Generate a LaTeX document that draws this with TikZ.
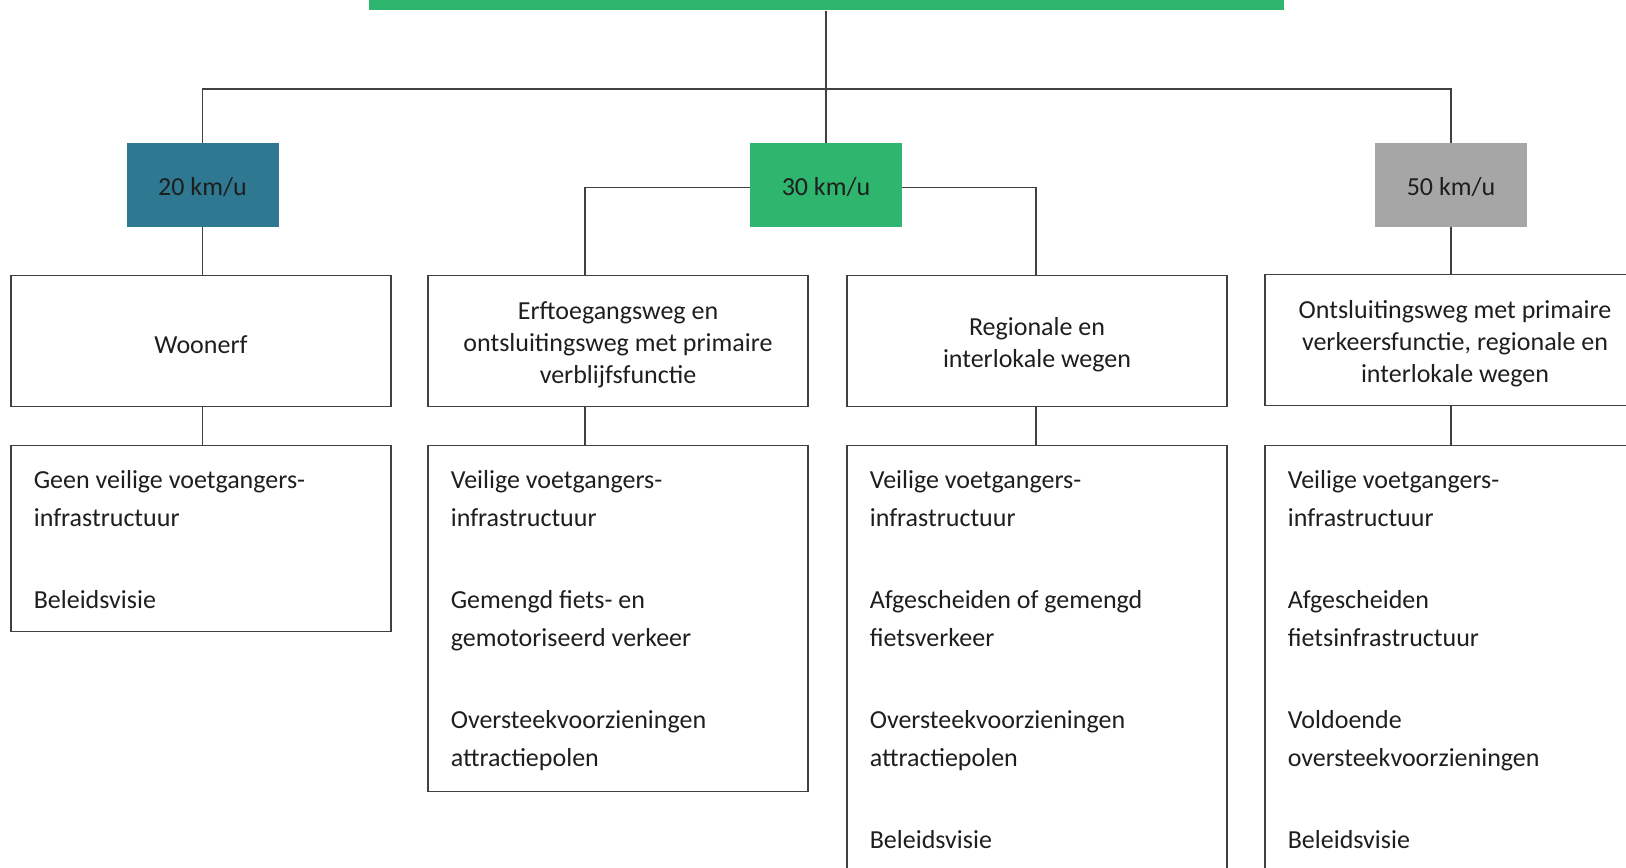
\documentclass[tikz,border=0pt]{standalone}
\usepackage{fontspec}
\setmainfont{Carlito}
\usepackage{tikz}

\definecolor{kmtwintig}{HTML}{2E7891}
\definecolor{kmdertig}{HTML}{2EB66E}
\definecolor{kmvijftig}{HTML}{A6A6A6}
\definecolor{lijn}{HTML}{404040}
\definecolor{tekst}{HTML}{1E1E1E}

\tikzset{
  snelheid/.style={minimum width=76pt, minimum height=41.7pt, inner sep=0pt, text=tekst,
    text height=12pt, text depth=1.5pt, font=\fontsize{13}{16}\selectfont},
  wegtype/.style={draw=lijn, line width=0.6pt, minimum width=190pt, minimum height=65.8pt,
    inner sep=0pt, text width=185pt, align=flush center, text=tekst, font=\fontsize{13}{16}\selectfont,
    execute at begin node={\rule{0pt}{12.5pt}}},
  eisbox/.style={draw=lijn, line width=0.6pt, minimum width=190pt, inner sep=0pt, anchor=north},
  eisen/.style={anchor=base west, align=flush left, text width=178pt, inner sep=0pt, text=tekst,
    font=\fontsize{13}{19.15}\selectfont},
  verbind/.style={draw=lijn, line width=0.6pt}
}

\begin{document}
\begin{tikzpicture}[x=0.5pt, y=-0.5pt]
\useasboundingbox (0,0) rectangle (1626,867);
\clip (0,0) rectangle (1626,867);
%\tikzstyle{kop}=[fill=kmdertig,minimum height=20pt]
\node[fill=kmdertig, minimum width=457.5pt, minimum height=15pt, inner sep=0pt, anchor=south] (top) at (826,10.7) {};

\begin{scope}
    \node[snelheid, fill=kmtwintig] (s20) at (202.5,185) {20 km/u};
    \node[snelheid, fill=kmdertig] (s30) at (826,185) {30 km/u};
    \node[snelheid, fill=kmvijftig] (s50) at (1451,185) {50 km/u};

    \node[wegtype] (woon) at (201,341) {Woonerf};
    \node[wegtype] (erf) at (618,341) {Erftoegangsweg en\\ontsluitingsweg met primaire\\verblijfsfunctie};
    \node[wegtype] (reg) at (1037,341) {Regionale en\\interlokale wegen};
    \node[wegtype] (onts) at (1455,340) {Ontsluitingsweg met primaire\\verkeersfunctie, regionale en\\interlokale wegen};
\end{scope}

\coordinate (bus) at (826,89);
\coordinate (je) at (585,275);
\coordinate (jr) at (1036,275);

\draw[verbind] (top) -- (s30);
\draw[verbind] (s20) |- (bus) -| (s50);
\draw[verbind] ([yshift=-1.3pt]s30.west) -| (je);
\draw[verbind] ([yshift=-1.3pt]s30.east) -| (jr);
\draw[verbind] (s20) -- (s20 |- woon.north);
\draw[verbind] (s50) -- (s50 |- onts.north);

% eisen per wegtype
\node[eisbox, minimum height=93pt] (woonL) at (201,445) {};
\node[eisbox, minimum height=173pt] (erfL) at (618,445) {};
\node[eisbox, minimum height=250pt] (regL) at (1037,445) {};
\node[eisbox, minimum height=250pt] (ontsL) at (1455,445) {};

\path [verbind] (s20 |- woon.south) edge (s20 |- woonL.north);
\path [verbind] (je |- erf.south) edge (je |- erfL.north);
\path [verbind] (jr |- reg.south) edge (jr |- regL.north);
\path [verbind] (s50 |- onts.south) edge (s50 |- ontsL.north);

\node[eisen] (woonT) at ([xshift=11.5pt, yshift=-21.5pt]woonL.north west)
  {Geen veilige voetgangers-\\infrastructuur\\[21.7pt]Beleidsvisie};
\node[eisen] (erfT) at ([xshift=11.5pt, yshift=-21.5pt]erfL.north west)
  {Veilige voetgangers-\\infrastructuur\\[21.7pt]Gemengd fiets- en\\gemotoriseerd verkeer\\[21.7pt]Oversteekvoorzieningen\\attractiepolen};
\node[eisen] (regT) at ([xshift=11.5pt, yshift=-21.5pt]regL.north west)
  {Veilige voetgangers-\\infrastructuur\\[21.7pt]Afgescheiden of gemengd\\fietsverkeer\\[21.7pt]Oversteekvoorzieningen\\attractiepolen\\[21.7pt]Beleidsvisie};
\node[eisen] (ontsT) at ([xshift=11.5pt, yshift=-21.5pt]ontsL.north west)
  {Veilige voetgangers-\\infrastructuur\\[21.7pt]Afgescheiden\\fietsinfrastructuur\\[21.7pt]Voldoende\\oversteekvoorzieningen\\[21.7pt]Beleidsvisie};
\end{tikzpicture}
\end{document}
